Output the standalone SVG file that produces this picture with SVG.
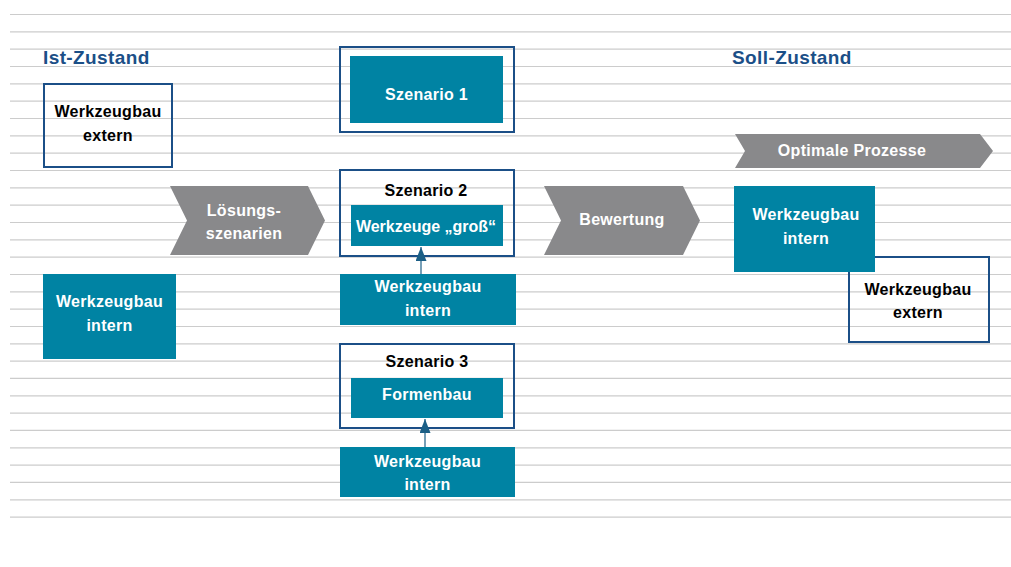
<svg xmlns="http://www.w3.org/2000/svg" width="1011" height="567" viewBox="0 0 1011 567">
<defs>
<style>
.grid line{stroke:#cccccc;stroke-width:1.2}
.t{font-family:"Liberation Sans",Arial,Helvetica,sans-serif;font-weight:bold;font-size:16px;text-anchor:middle;letter-spacing:0.3px}
.w{fill:#ffffff}
.k{fill:#000000}
.title{font-family:"Liberation Sans",Arial,Helvetica,sans-serif;font-weight:bold;font-size:19px;fill:#1b4f87;letter-spacing:0.4px}
.teal{fill:#0083a3}
.frame{fill:none;stroke:#1b4f87;stroke-width:2}
.chev{fill:#89898b}
.conn{stroke:#1b5f86;stroke-width:1.2;fill:none}
</style>
<marker id="ah" markerWidth="14" markerHeight="11" refX="14" refY="5.5" orient="auto" markerUnits="userSpaceOnUse" viewBox="0 0 14 11">
<path d="M0,0 L14,5.5 L0,11 Z" fill="#1b5f86"/>
</marker>
</defs>
<rect width="1011" height="567" fill="#ffffff"/>
<g class="grid">
<line x1="10" y1="14.5" x2="1011" y2="14.5"/>
<line x1="10" y1="31.8" x2="1011" y2="31.8"/>
<line x1="10" y1="49.2" x2="1011" y2="49.2"/>
<line x1="10" y1="66.5" x2="1011" y2="66.5"/>
<line x1="10" y1="83.8" x2="1011" y2="83.8"/>
<line x1="10" y1="101.2" x2="1011" y2="101.2"/>
<line x1="10" y1="118.5" x2="1011" y2="118.5"/>
<line x1="10" y1="135.8" x2="1011" y2="135.8"/>
<line x1="10" y1="153.1" x2="1011" y2="153.1"/>
<line x1="10" y1="170.5" x2="1011" y2="170.5"/>
<line x1="10" y1="187.8" x2="1011" y2="187.8"/>
<line x1="10" y1="205.1" x2="1011" y2="205.1"/>
<line x1="10" y1="222.5" x2="1011" y2="222.5"/>
<line x1="10" y1="239.8" x2="1011" y2="239.8"/>
<line x1="10" y1="257.1" x2="1011" y2="257.1"/>
<line x1="10" y1="274.5" x2="1011" y2="274.5"/>
<line x1="10" y1="291.8" x2="1011" y2="291.8"/>
<line x1="10" y1="309.1" x2="1011" y2="309.1"/>
<line x1="10" y1="326.5" x2="1011" y2="326.5"/>
<line x1="10" y1="343.8" x2="1011" y2="343.8"/>
<line x1="10" y1="361.1" x2="1011" y2="361.1"/>
<line x1="10" y1="378.4" x2="1011" y2="378.4"/>
<line x1="10" y1="395.8" x2="1011" y2="395.8"/>
<line x1="10" y1="413.1" x2="1011" y2="413.1"/>
<line x1="10" y1="430.4" x2="1011" y2="430.4"/>
<line x1="10" y1="447.8" x2="1011" y2="447.8"/>
<line x1="10" y1="465.1" x2="1011" y2="465.1"/>
<line x1="10" y1="482.4" x2="1011" y2="482.4"/>
<line x1="10" y1="499.8" x2="1011" y2="499.8"/>
<line x1="10" y1="517.1" x2="1011" y2="517.1"/>
</g>

<g id="ist-zustand"><text class="title" x="43" y="64">Ist-Zustand</text></g>
<g id="soll-zustand"><text class="title" x="732" y="64">Soll-Zustand</text></g>

<g id="ist-extern">
<rect class="frame" x="44" y="84" width="128" height="83"/>
<text class="t k" x="108" y="117">Werkzeugbau</text>
<text class="t k" x="108" y="141">extern</text>
</g>
<g id="ist-intern">
<rect class="teal" x="43" y="274" width="133" height="85"/>
<text class="t w" x="109.5" y="306.5">Werkzeugbau</text>
<text class="t w" x="109.5" y="330.5">intern</text>
</g>

<g id="loesungsszenarien">
<polygon class="chev" points="170,186 308,186 325,220.5 308,255 170,255 187,220.5"/>
<text class="t w" x="244" y="215.5">Lösungs-</text>
<text class="t w" x="244" y="239">szenarien</text>
</g>

<g id="szenario1">
<rect class="frame" x="340" y="47" width="174" height="85"/>
<rect class="teal" x="350" y="56" width="153" height="67"/>
<text class="t w" x="426.5" y="99.5">Szenario 1</text>
</g>

<g id="szenario2">
<rect class="frame" x="340" y="170" width="174" height="86"/>
<text class="t k" x="426" y="196">Szenario 2</text>
<rect class="teal" x="351" y="205" width="152" height="41"/>
<text class="t w" x="426" y="231.5" style="letter-spacing:0">Werkzeuge „groß“</text>
</g>
<g id="s2-intern">
<rect class="teal" x="340" y="274" width="176" height="51"/>
<text class="t w" x="428" y="292">Werkzeugbau</text>
<text class="t w" x="428" y="316">intern</text>
</g>

<g id="szenario3">
<rect class="frame" x="340" y="344" width="174" height="84"/>
<text class="t k" x="427" y="367">Szenario 3</text>
<rect class="teal" x="351" y="378" width="152" height="40"/>
<text class="t w" x="427" y="399.5">Formenbau</text>
</g>
<g id="s3-intern">
<rect class="teal" x="340" y="447" width="175" height="50"/>
<text class="t w" x="427.5" y="467">Werkzeugbau</text>
<text class="t w" x="427.5" y="490">intern</text>
</g>

<g id="bewertung">
<polygon class="chev" points="544,186 683,186 700,220.5 683,255 544,255 561,220.5"/>
<text class="t w" x="622" y="224.5">Bewertung</text>
</g>

<g id="optimale-prozesse">
<polygon class="chev" points="735,134 980,134 993,151 980,168 735,168 745,151"/>
<text class="t w" x="852" y="155.5">Optimale Prozesse</text>
</g>

<g id="soll-extern">
<rect class="frame" x="849" y="257" width="140" height="85"/>
<text class="t k" x="918" y="294.5">Werkzeugbau</text>
<text class="t k" x="918" y="318">extern</text>
</g>
<g id="soll-intern">
<rect class="teal" x="734" y="186" width="141" height="86"/>
<text class="t w" x="806" y="220">Werkzeugbau</text>
<text class="t w" x="806" y="244">intern</text>
</g>

<g id="connectors">
<line class="conn" x1="421" y1="274" x2="421" y2="247" marker-end="url(#ah)"/>
<line class="conn" x1="425" y1="447" x2="425" y2="419" marker-end="url(#ah)"/>
</g>
</svg>
